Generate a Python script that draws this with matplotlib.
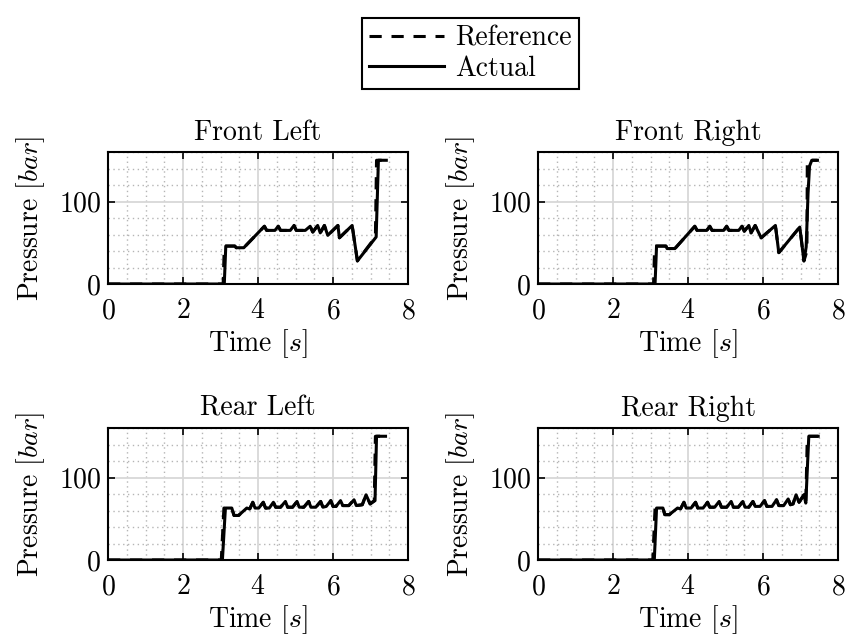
import matplotlib
matplotlib.use("Agg")
import matplotlib.pyplot as plt
from matplotlib.ticker import MultipleLocator
from matplotlib.lines import Line2D

plt.rcParams["font.family"] = "serif"
plt.rcParams["font.serif"] = ["cmr10"]
plt.rcParams["mathtext.fontset"] = "cm"
plt.rcParams["axes.formatter.use_mathtext"] = True

# Front Left
fl_t = [0.00, 3.10, 3.14, 3.38, 3.42, 3.62, 4.17, 4.23, 4.45, 4.54, 4.60, 4.86, 4.96, 5.02,
        5.26, 5.39, 5.46, 5.59, 5.66, 5.77, 5.86, 6.13, 6.17, 6.51, 6.65, 7.15, 7.21, 7.42]
fl_t_ref = [0.00, 3.07, 3.10, 3.38, 3.42, 3.62, 4.17, 4.23, 4.45, 4.54, 4.60, 4.86, 4.96, 5.02,
            5.26, 5.39, 5.46, 5.59, 5.66, 5.77, 5.86, 6.13, 6.17, 6.51, 6.65, 7.13, 7.16, 7.42]
fl_p = [0, 0, 46, 46, 44, 44, 70, 65, 65, 70, 65, 65, 71, 65,
        65, 70, 63, 71, 62, 71, 59, 71, 56, 71, 28, 57, 150, 150]

# Front Right
fr_t = [0.00, 3.12, 3.16, 3.41, 3.44, 3.65, 4.18, 4.24, 4.50, 4.58, 4.64, 4.95, 5.03, 5.09, 5.35,
        5.44, 5.50, 5.62, 5.68, 5.79, 5.95, 6.33, 6.42, 6.98, 7.09, 7.15, 7.20, 7.24, 7.30, 7.45]
fr_p = [0, 0, 46, 46, 43, 43, 70, 65, 65, 70, 65, 65, 70, 65, 65,
        70, 64, 71, 62, 71, 56, 71, 38, 69, 28, 45, 110, 143, 150, 150]
fr_t_ref = [0.00, 3.08, 3.11, 3.41, 3.44, 3.65, 4.18, 4.24, 4.50, 4.58, 4.64, 4.95, 5.03, 5.09, 5.35,
            5.44, 5.50, 5.62, 5.68, 5.79, 5.95, 6.33, 6.42, 6.98, 7.09, 7.17, 7.18, 7.45]
fr_p_ref = [0, 0, 46, 46, 43, 43, 70, 65, 65, 70, 65, 65, 70, 65, 65,
            70, 64, 71, 62, 71, 56, 71, 38, 69, 28, 40, 150, 150]

# Rear Left
rl_t = [0.00, 3.05, 3.13, 3.30, 3.36, 3.48, 3.70, 3.78, 3.86, 3.92, 4.02, 4.14, 4.20, 4.30, 4.41,
        4.47, 4.60, 4.73, 4.79, 4.92, 5.04, 5.10, 5.22, 5.35, 5.41, 5.54, 5.67, 5.73, 5.82, 5.94,
        6.00, 6.08, 6.20, 6.26, 6.42, 6.56, 6.62, 6.78, 6.88, 6.99, 7.12, 7.16, 7.40]
rl_t_ref = [0.00, 3.02, 3.09, 3.30, 3.36, 3.48, 3.70, 3.78, 3.86, 3.92, 4.02, 4.14, 4.20, 4.30, 4.41,
            4.47, 4.60, 4.73, 4.79, 4.92, 5.04, 5.10, 5.22, 5.35, 5.41, 5.54, 5.67, 5.73, 5.82, 5.94,
            6.00, 6.08, 6.20, 6.26, 6.42, 6.56, 6.62, 6.78, 6.88, 6.99, 7.10, 7.13, 7.40]
rl_p = [0, 0, 63, 63, 54, 54, 63, 62, 70, 63, 63, 70, 63, 63, 70,
        64, 64, 71, 64, 64, 71, 64, 64, 71, 64, 64, 71, 64, 65, 72,
        65, 65, 72, 66, 66, 73, 66, 67, 79, 68, 72, 150, 150]

# Rear Right
rr_t = [0.00, 3.10, 3.16, 3.33, 3.38, 3.50, 3.72, 3.80, 3.89, 3.95, 4.08, 4.20, 4.26, 4.40, 4.52,
        4.58, 4.71, 4.83, 4.89, 5.03, 5.15, 5.21, 5.34, 5.46, 5.52, 5.62, 5.73, 5.79, 5.92, 6.04,
        6.10, 6.24, 6.36, 6.42, 6.55, 6.67, 6.73, 6.80, 6.88, 6.96, 7.09, 7.14, 7.22, 7.47]
rr_t_ref = [0.00, 3.06, 3.12, 3.33, 3.38, 3.50, 3.72, 3.80, 3.89, 3.95, 4.08, 4.20, 4.26, 4.40, 4.52,
            4.58, 4.71, 4.83, 4.89, 5.03, 5.15, 5.21, 5.34, 5.46, 5.52, 5.62, 5.73, 5.79, 5.92, 6.04,
            6.10, 6.24, 6.36, 6.42, 6.55, 6.67, 6.73, 6.80, 6.88, 6.96, 7.09, 7.14, 7.18, 7.47]
rr_p = [0, 0, 63, 63, 55, 55, 63, 62, 70, 63, 63, 70, 63, 63, 70,
        64, 64, 71, 64, 64, 71, 64, 64, 71, 64, 64, 71, 65, 65, 72,
        65, 65, 73, 66, 66, 74, 67, 68, 79, 70, 79, 69, 150, 150]

titles = ["Front Left", "Front Right", "Rear Left", "Rear Right"]
series = [(fl_t_ref, fl_p, fl_t, fl_p),
          (fr_t_ref, fr_p_ref, fr_t, fr_p),
          (rl_t_ref, rl_p, rl_t, rl_p),
          (rr_t_ref, rr_p, rr_t, rr_p)]

fig = plt.figure(figsize=(8.46, 6.42), dpi=100)
w, h = 0.3546, 0.2056
positions = [(0.1277, 0.5576), (0.636, 0.5576), (0.1277, 0.1277), (0.636, 0.1277)]

fs = 20
dash = (0, (4, 3.2))
for pos, title, (tr, pr, ta, pa) in zip(positions, titles, series):
    ax = fig.add_axes([pos[0], pos[1], w, h])
    ax.plot(tr, pr, color="black", lw=2.2, linestyle=dash)
    ax.plot(ta, pa, color="black", lw=2.2)
    ax.set_xlim(0, 8)
    ax.set_ylim(0, 160)
    ax.set_xticks([0, 2, 4, 6, 8])
    ax.set_yticks([0, 100])
    ax.xaxis.set_minor_locator(MultipleLocator(0.5))
    ax.yaxis.set_minor_locator(MultipleLocator(20))
    ax.grid(True, which="major", color="#d8d8d8", lw=1.3, linestyle="-")
    ax.grid(True, which="minor", color="#b5b5b5", lw=1.0, linestyle=(0, (1, 2.5)))
    ax.set_axisbelow(True)
    ax.tick_params(which="major", direction="in", length=5, width=1.2,
                   top=True, right=True, labelsize=fs)
    ax.tick_params(axis="x", which="major", pad=10)
    ax.tick_params(axis="y", which="major", pad=5)
    ax.tick_params(which="minor", length=0)
    for s in ax.spines.values():
        s.set_linewidth(1.5)
    ax.set_title(title, fontsize=fs, pad=9)
    ax.set_xlabel("Time [$s$]", fontsize=fs, labelpad=2)
    ax.set_ylabel("Pressure [$bar$]", fontsize=fs, labelpad=8)

handles = [Line2D([], [], color="black", lw=2.2, linestyle=dash),
           Line2D([], [], color="black", lw=2.2)]
leg = fig.legend(handles, ["Reference", "Actual"], loc="upper center",
                 bbox_to_anchor=(0.556, 0.993), fontsize=fs, handlelength=2.7,
                 handletextpad=0.4, labelspacing=0.15, borderpad=0.25,
                 fancybox=False, framealpha=1, edgecolor="black")
leg.get_frame().set_linewidth(1.5)

fig.savefig("out.png", dpi=100)
